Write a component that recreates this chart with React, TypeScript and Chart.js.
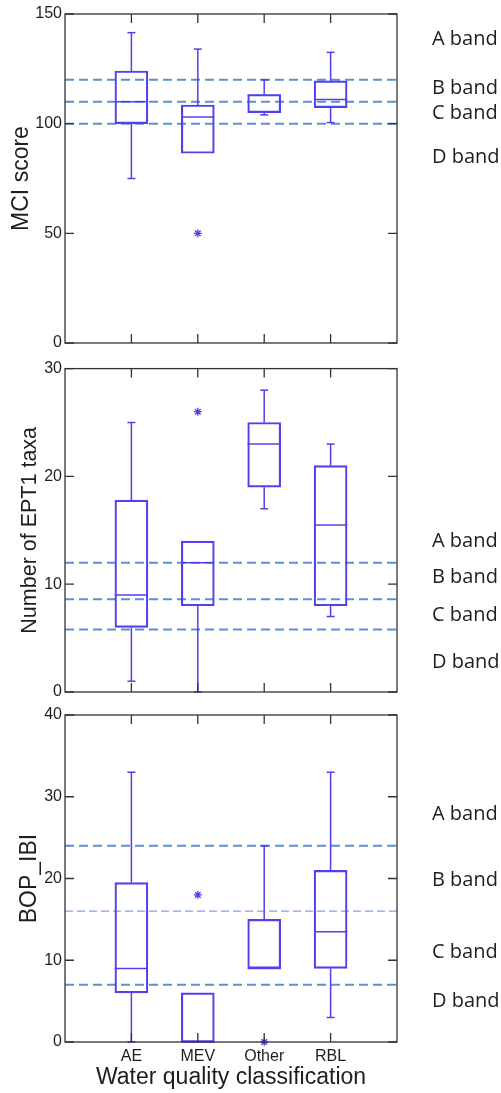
import React, { useEffect, useRef } from "react";
import { Chart, registerables } from "chart.js";

Chart.register(...registerables);

// ---------- data ----------
const categories = ["AE", "MEV", "Other", "RBL"];
const categoryPositions = [1, 2, 3, 4];
const bandLabels = ["A band", "B band", "C band", "D band"];

// Panel 1: MCI score
const mciTicks = [0, 50, 100, 150];
const mciWhiskerLow = [75, 86.5, 104, 100.5];
const mciQ1 = [100, 86.5, 105, 107.3];
const mciMedian = [110, 103, 113, 111];
const mciQ3 = [124, 108.5, 113.3, 119.5];
const mciWhiskerHigh = [141.5, 134, 120, 132.5];
const mciOutlierX = [2];
const mciOutlierY = [50];
const mciBands = [120, 110, 100];

// Panel 2: Number of EPT1 taxa
const eptTicks = [0, 10, 20, 30];
const eptWhiskerLow = [1, 0, 17, 7];
const eptQ1 = [6, 8, 19, 8];
const eptMedian = [9, 12, 23, 15.5];
const eptQ3 = [17.8, 14, 25, 21];
const eptWhiskerHigh = [25, 14, 28, 23];
const eptOutlierX = [2];
const eptOutlierY = [26];
const eptBands = [12, 8.6, 5.8];

// Panel 3: BOP_IBI
const bopTicks = [0, 10, 20, 30, 40];
const bopWhiskerLow = [0, 0, 9, 3];
const bopQ1 = [6, 0, 9, 9];
const bopMedian = [9, 0, 9, 13.5];
const bopQ3 = [19.5, 6, 15, 21];
const bopWhiskerHigh = [33, 6, 24, 33];
const bopOutlierX = [2, 3];
const bopOutlierY = [18, 0];
const bopBands = [24, 16, 7];

// ---------- styles ----------
const BOX_COLOR = "#5040f0";
const BAND_COLOR = "#5b8fd8";
const FRAME_COLOR = "#333333";
const TEXT_COLOR = "#1e1e1e";
const AXIS_FONT = "'Liberation Sans', Arial, sans-serif";

const normalBand = { width: 2, dash: [9, 5], color: BAND_COLOR };
const thinBand = { width: 1.2, dash: [8, 4], color: "#7fa6dd" };

type BandStyle = { width: number; dash: number[]; color: string };

type PanelSpec = {
  title: string;
  ticks: number[];
  wLo: number[];
  q1: number[];
  med: number[];
  q3: number[];
  wHi: number[];
  outX: number[];
  outY: number[];
  bands: number[];
  bandStyles: BandStyle[];
  top: number;
  height: number;
  padTop: number;
  xHeight: number;
  titlePad: number;
  titleSize: number;
  showX: boolean;
  labelCenters: number[];
};

const panels: PanelSpec[] = [
  {
    title: "MCI score",
    ticks: mciTicks,
    wLo: mciWhiskerLow,
    q1: mciQ1,
    med: mciMedian,
    q3: mciQ3,
    wHi: mciWhiskerHigh,
    outX: mciOutlierX,
    outY: mciOutlierY,
    bands: mciBands,
    bandStyles: [normalBand, normalBand, normalBand],
    top: 0,
    height: 360,
    padTop: 14,
    xHeight: 17,
    titlePad: 10,
    titleSize: 23,
    showX: false,
    labelCenters: [39, 88, 113, 157],
  },
  {
    title: "Number of EPT1 taxa",
    ticks: eptTicks,
    wLo: eptWhiskerLow,
    q1: eptQ1,
    med: eptMedian,
    q3: eptQ3,
    wHi: eptWhiskerHigh,
    outX: eptOutlierX,
    outY: eptOutlierY,
    bands: eptBands,
    bandStyles: [normalBand, normalBand, normalBand],
    top: 356,
    height: 374,
    padTop: 10,
    xHeight: 38,
    titlePad: 19,
    titleSize: 21.5,
    showX: false,
    labelCenters: [541, 577, 615, 662],
  },
  {
    title: "BOP_IBI",
    ticks: bopTicks,
    wLo: bopWhiskerLow,
    q1: bopQ1,
    med: bopMedian,
    q3: bopQ3,
    wHi: bopWhiskerHigh,
    outX: bopOutlierX,
    outY: bopOutlierY,
    bands: bopBands,
    bandStyles: [normalBand, thinBand, normalBand],
    top: 700,
    height: 393,
    padTop: 15,
    xHeight: 51,
    titlePad: 18,
    titleSize: 23,
    showX: true,
    labelCenters: [814, 880, 952, 1001],
  },
];

const WIDTH = 501;
const PLOT_LEFT = 65;
const PLOT_RIGHT_PAD = 104;
const BOX_HALF = 0.25;
const CAP_HALF_PX = 4;
const TICK_LEN = 9;

function makeExtrasPlugin(spec: PanelSpec) {
  return {
    id: "boxExtras",
    afterDatasetsDraw(chart: any) {
      const { ctx, scales } = chart;
      const x = scales.x;
      const y = scales.y;
      ctx.save();
      ctx.strokeStyle = BOX_COLOR;
      ctx.lineWidth = 1.5;
      const seg = (x1: number, y1: number, x2: number, y2: number) => {
        ctx.beginPath();
        ctx.moveTo(x1, y1);
        ctx.lineTo(x2, y2);
        ctx.stroke();
      };
      categoryPositions.forEach((p, i) => {
        const cx = x.getPixelForValue(p);
        const left = x.getPixelForValue(p - BOX_HALF);
        const right = x.getPixelForValue(p + BOX_HALF);
        const pm = y.getPixelForValue(spec.med[i]);
        seg(left, pm, right, pm);
        if (spec.wHi[i] > spec.q3[i]) {
          const a = y.getPixelForValue(spec.q3[i]);
          const b = y.getPixelForValue(spec.wHi[i]);
          seg(cx, a, cx, b);
          seg(cx - CAP_HALF_PX, b, cx + CAP_HALF_PX, b);
        }
        if (spec.wLo[i] < spec.q1[i]) {
          const a = y.getPixelForValue(spec.q1[i]);
          const b = y.getPixelForValue(spec.wLo[i]);
          seg(cx, a, cx, b);
          seg(cx - CAP_HALF_PX, b, cx + CAP_HALF_PX, b);
        }
      });
      ctx.restore();
    },
    afterDraw(chart: any) {
      const { ctx, chartArea: a, scales } = chart;
      const x = scales.x;
      const y = scales.y;
      ctx.save();
      ctx.strokeStyle = FRAME_COLOR;
      ctx.lineWidth = 1.3;
      ctx.strokeRect(a.left, a.top, a.right - a.left, a.bottom - a.top);
      ctx.beginPath();
      spec.ticks.forEach((v) => {
        const py = y.getPixelForValue(v);
        ctx.moveTo(a.left, py);
        ctx.lineTo(a.left + TICK_LEN, py);
        ctx.moveTo(a.right, py);
        ctx.lineTo(a.right - TICK_LEN, py);
      });
      categoryPositions.forEach((p) => {
        const px = x.getPixelForValue(p);
        ctx.moveTo(px, a.bottom);
        ctx.lineTo(px, a.bottom - TICK_LEN);
        ctx.moveTo(px, a.top);
        ctx.lineTo(px, a.top + TICK_LEN);
      });
      ctx.stroke();
      ctx.restore();
    },
  };
}

function Panel({ spec }: { spec: PanelSpec }) {
  const ref = useRef<HTMLCanvasElement | null>(null);

  useEffect(() => {
    if (!ref.current) return;
    const yMin = spec.ticks[0];
    const yMax = spec.ticks[spec.ticks.length - 1];

    const bandDatasets = spec.bands.map((v, i) => ({
      type: "line" as const,
      data: [
        { x: 0, y: v },
        { x: categoryPositions.length + 1, y: v },
      ],
      borderColor: spec.bandStyles[i].color,
      borderWidth: spec.bandStyles[i].width,
      borderDash: spec.bandStyles[i].dash,
      pointRadius: 0,
      fill: false,
      order: 3,
    }));

    const boxDataset = {
      type: "bar" as const,
      data: categoryPositions.map((p, i) => ({ x: p, y: [spec.q1[i], spec.q3[i]] })),
      backgroundColor: "rgba(0,0,0,0)",
      borderColor: BOX_COLOR,
      borderWidth: 1.5,
      borderSkipped: false,
      barThickness: 33,
      order: 2,
    };

    const outlierDataset = {
      type: "scatter" as const,
      data: spec.outX.map((v, i) => ({ x: v, y: spec.outY[i] })),
      pointStyle: "star",
      pointRadius: 4,
      borderColor: BOX_COLOR,
      backgroundColor: BOX_COLOR,
      borderWidth: 1.3,
      clip: false,
      order: 1,
    };

    const chart = new Chart(ref.current, {
      type: "bar",
      data: { datasets: [boxDataset, ...bandDatasets, outlierDataset] as any },
      options: {
        animation: false,
        responsive: false,
        maintainAspectRatio: false,
        events: [],
        layout: { padding: { left: 0, right: PLOT_RIGHT_PAD, top: spec.padTop, bottom: 0 } },
        plugins: { legend: { display: false }, tooltip: { enabled: false } },
        scales: {
          x: {
            type: "linear",
            min: 0,
            max: categoryPositions.length + 1,
            offset: false,
            grid: { display: false, drawTicks: false, offset: false },
            border: { display: false },
            ticks: {
              display: spec.showX,
              padding: 5,
              color: TEXT_COLOR,
              font: { family: AXIS_FONT, size: 16 },
              callback: (v: any) => {
                const idx = categoryPositions.indexOf(Number(v));
                return idx >= 0 ? categories[idx] : "";
              },
            },
            afterBuildTicks: (s: any) => {
              s.ticks = categoryPositions.map((v) => ({ value: v }));
            },
            afterFit: (s: any) => {
              s.height = spec.xHeight;
            },
            title: {
              display: spec.showX,
              text: "Water quality classification",
              color: TEXT_COLOR,
              font: { family: AXIS_FONT, size: 23, lineHeight: 1 },
              padding: { top: 0, bottom: 4 },
            },
          } as any,
          y: {
            type: "linear",
            min: yMin,
            max: yMax,
            grid: { display: false, drawTicks: false },
            border: { display: false },
            ticks: {
              padding: 3,
              color: TEXT_COLOR,
              font: { family: AXIS_FONT, size: 16 },
            },
            afterBuildTicks: (s: any) => {
              s.ticks = spec.ticks.map((v) => ({ value: v }));
            },
            afterFit: (s: any) => {
              s.width = PLOT_LEFT;
            },
            title: {
              display: true,
              text: spec.title,
              color: TEXT_COLOR,
              font: { family: AXIS_FONT, size: spec.titleSize, lineHeight: 1 },
              padding: { top: spec.titlePad, bottom: 0 },
            },
          } as any,
        },
      },
      plugins: [makeExtrasPlugin(spec)],
    });
    return () => chart.destroy();
  }, [spec]);

  return (
    <canvas
      ref={ref}
      width={WIDTH}
      height={spec.height}
      style={{
        position: "absolute",
        left: 0,
        top: spec.top,
        width: WIDTH,
        height: spec.height,
      }}
    />
  );
}

export default function App() {
  return (
    <div
      style={{
        position: "absolute",
        left: 0,
        top: 0,
        width: WIDTH,
        height: 1093,
        background: "#ffffff",
        overflow: "hidden",
      }}
    >
      {panels.map((p, i) => (
        <Panel key={i} spec={p} />
      ))}
      {panels.map((p, i) =>
        bandLabels.map((label, j) => (
          <div
            key={`${i}-${j}`}
            style={{
              position: "absolute",
              left: 432,
              top: p.labelCenters[j] - 10.6,
              fontFamily: "'Open Sans', sans-serif",
              fontSize: 20,
              lineHeight: "20px",
              color: TEXT_COLOR,
              whiteSpace: "nowrap",
            }}
          >
            {label}
          </div>
        ))
      )}
    </div>
  );
}
